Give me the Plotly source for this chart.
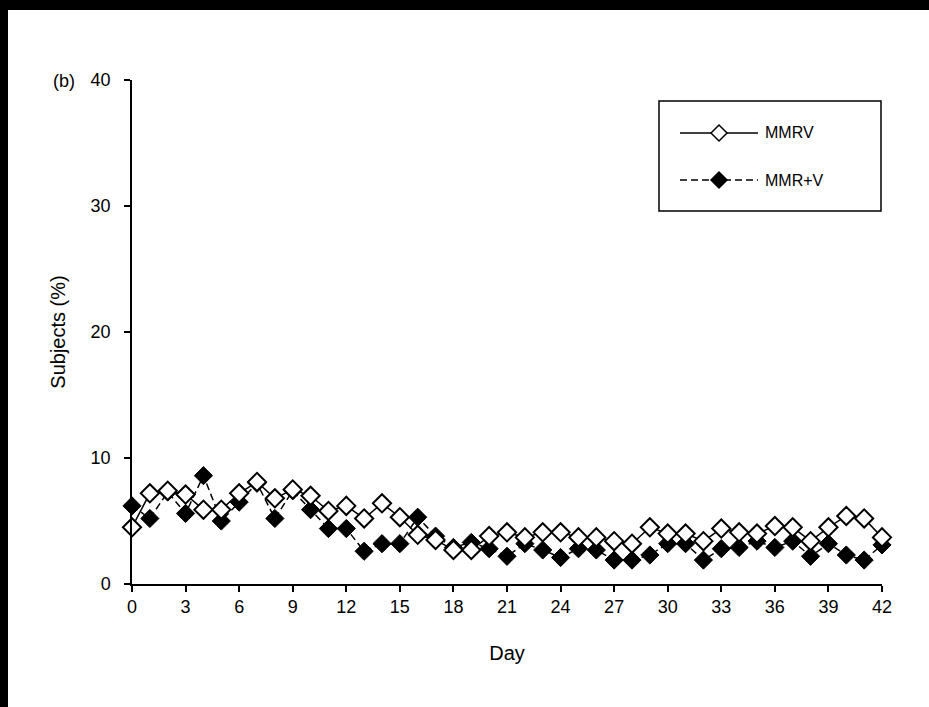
import plotly.graph_objects as go

days = list(range(0, 43))
mmrv = [4.5, 7.2, 7.4, 7.1, 5.9, 5.9, 7.2, 8.1, 6.8, 7.5, 7.0, 5.8, 6.2, 5.2,
        6.4, 5.3, 3.9, 3.5, 2.7, 2.7, 3.8, 4.1, 3.7, 4.1, 4.1, 3.7, 3.7, 3.4,
        3.2, 4.5, 4.0, 4.0, 3.4, 4.4, 4.1, 4.0, 4.6, 4.5, 3.4, 4.5, 5.4, 5.2, 3.7]
mmr_v = [6.2, 5.2, 7.3, 5.6, 8.6, 5.0, 6.5, 8.0, 5.2, 7.4, 5.9, 4.4, 4.4, 2.6,
         3.2, 3.2, 5.3, 3.8, 2.9, 3.3, 2.8, 2.2, 3.2, 2.7, 2.1, 2.8, 2.7, 1.9,
         1.9, 2.3, 3.2, 3.2, 1.9, 2.8, 2.9, 3.4, 2.9, 3.4, 2.2, 3.2, 2.3, 1.9, 3.1]
series_names = ["MMRV", "MMR+V"]
x_ticks = list(range(0, 43, 3))
y_ticks = [0, 10, 20, 30, 40]

FONT = "Liberation Sans, Arial, sans-serif"
DASH = "7px,4px"

W, H = 929, 707
# plot area in page px
PX0, PX1, PY0, PY1 = 132, 882, 80, 584


def px(x):
    return (x - PX0) / (PX1 - PX0)


def py(y):
    return (PY1 - y) / (PY1 - PY0)


def diamond(cx, cy, r):
    return (f"M{px(cx - r)},{py(cy)} L{px(cx)},{py(cy - r)} "
            f"L{px(cx + r)},{py(cy)} L{px(cx)},{py(cy + r)} Z")


fig = go.Figure()
fig.add_trace(go.Scatter(
    x=days, y=mmr_v, name=series_names[1], mode="lines+markers",
    line=dict(color="black", width=1.5, dash=DASH),
    marker=dict(symbol="diamond", size=14, color="black",
                line=dict(color="black", width=1)),
    cliponaxis=False, showlegend=False,
))
fig.add_trace(go.Scatter(
    x=days, y=mmrv, name=series_names[0], mode="lines+markers",
    line=dict(color="black", width=1.5),
    marker=dict(symbol="diamond", size=14, color="white",
                line=dict(color="black", width=2)),
    cliponaxis=False, showlegend=False,
))

# legend (drawn as a framed key)
row1, row2 = 133, 180
shapes = [
    # black frame bands (left / top edge of the picture)
    dict(type="rect", xref="paper", yref="paper", layer="above",
         x0=px(0), x1=px(8), y0=py(H), y1=py(0),
         fillcolor="black", line=dict(width=0)),
    dict(type="rect", xref="paper", yref="paper", layer="above",
         x0=px(0), x1=px(W), y0=py(10), y1=py(0),
         fillcolor="black", line=dict(width=0)),
    dict(type="rect", xref="paper", yref="paper", x0=px(659), x1=px(881),
         y0=py(211), y1=py(101), line=dict(color="black", width=1.5), fillcolor="white"),
    dict(type="line", xref="paper", yref="paper", x0=px(680), x1=px(758),
         y0=py(row1), y1=py(row1), line=dict(color="black", width=1.5)),
    dict(type="path", xref="paper", yref="paper", path=diamond(719, row1, 8),
         fillcolor="white", line=dict(color="black", width=1.5)),
    dict(type="line", xref="paper", yref="paper", x0=px(680), x1=px(758),
         y0=py(row2), y1=py(row2), line=dict(color="black", width=1.5, dash=DASH)),
    dict(type="path", xref="paper", yref="paper", path=diamond(719, row2, 8),
         fillcolor="black", line=dict(color="black", width=1.5)),
]
annotations = [
    dict(text="(b)", xref="paper", yref="paper", x=px(77), y=py(81),
         xanchor="right", yanchor="middle", showarrow=False, font=dict(size=18)),
    dict(text=series_names[0], xref="paper", yref="paper", x=px(763), y=py(row1),
         xanchor="left", yanchor="middle", showarrow=False, font=dict(size=16)),
    dict(text=series_names[1], xref="paper", yref="paper", x=px(763), y=py(row2),
         xanchor="left", yanchor="middle", showarrow=False, font=dict(size=16)),
]

fig.update_layout(
    width=W, height=H,
    margin=dict(l=PX0, r=W - PX1, t=PY0, b=H - PY1),
    paper_bgcolor="white", plot_bgcolor="white",
    font=dict(family=FONT, color="black", size=18),
    showlegend=False,
    xaxis=dict(range=[0, 42], tickvals=x_ticks, ticktext=[str(t) for t in x_ticks],
               showline=True, linecolor="black", linewidth=1.5,
               ticks="outside", ticklen=6, tickcolor="black", tickwidth=1.5,
               showgrid=False, zeroline=False,
               title=dict(text="Day", font=dict(size=20), standoff=30)),
    yaxis=dict(range=[0, 40], tickvals=y_ticks,
               showline=True, linecolor="black", linewidth=1.5,
               ticks="outside", ticklen=6, tickcolor="black", tickwidth=1.5,
               ticklabelstandoff=10,
               showgrid=False, zeroline=False,
               title=dict(text="Subjects (%)", font=dict(size=20), standoff=20)),
    annotations=annotations,
    shapes=shapes,
)

fig.write_html("out.html",
               config={"displayModeBar": False},
               post_script="document.body.style.margin='0';"
                           "document.body.style.background='white';")
